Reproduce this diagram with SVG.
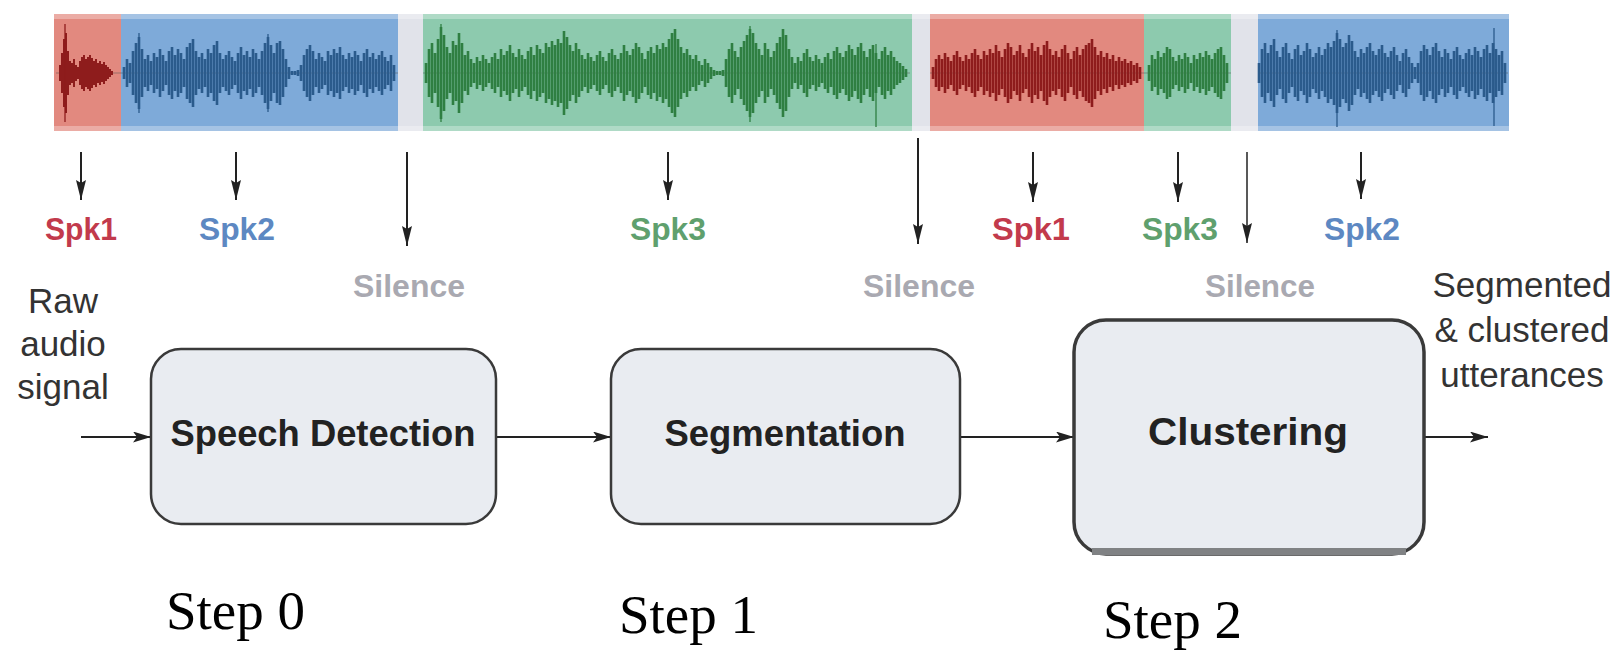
<svg xmlns="http://www.w3.org/2000/svg" width="1624" height="654" viewBox="0 0 1624 654">
  <style>
    .wave { fill: none; stroke-width: 2.6; stroke-linecap: butt; }
    .spike { fill: none; stroke-width: 1.3; }
    .w-red { stroke: #8e1c1c; }
    .w-blue { stroke: #2b5b8c; }
    .w-green { stroke: #2f7f42; }
    .conn { fill: none; stroke: #222; stroke-width: 2; }
    .box { fill: #e9ecf1; stroke: #3a3a3a; stroke-width: 2.5; }
    .boxlabel { font-family: "Liberation Sans", Arial, sans-serif; font-weight: bold; font-size: 36px; fill: #222; text-anchor: middle; }
    .spk { font-family: "Liberation Sans", Arial, sans-serif; font-weight: bold; font-size: 31px; text-anchor: middle; }
    .sil { font-family: "Liberation Sans", Arial, sans-serif; font-weight: bold; font-size: 32px; fill: #a9a9b1; text-anchor: middle; }
    .side { font-family: "Liberation Sans", Arial, sans-serif; font-size: 35px; fill: #333; text-anchor: middle; }
    .step { font-family: "Liberation Serif", "Times New Roman", serif; font-size: 55px; fill: #000; }
  </style>
  <defs>
    <marker id="ahH" viewBox="0 0 18 11" refX="18" refY="5.5" markerWidth="18" markerHeight="11" orient="auto" markerUnits="userSpaceOnUse">
      <path d="M0 0L18 5.5L0 11L4 5.5z" fill="#222"/>
    </marker>
    <marker id="ahV" viewBox="0 0 20 10" refX="20" refY="5" markerWidth="20" markerHeight="10" orient="auto" markerUnits="userSpaceOnUse">
      <path d="M0 0L20 5L0 10L3 5z" fill="#222"/>
    </marker>
  </defs>

  <rect width="1624" height="654" fill="#ffffff"/>

  <!-- audio strip: coloured speaker segments -->
  <g id="audio-strip">
    <rect x="54" y="14" width="67" height="117" fill="#e2897f"/>
    <rect x="121" y="14" width="277" height="117" fill="#7eaad9"/>
    <rect x="398" y="14" width="25" height="117" fill="#e1e3ea"/>
    <rect x="423" y="14" width="489" height="117" fill="#8dcaae"/>
    <rect x="912" y="14" width="18" height="117" fill="#e1e3ea"/>
    <rect x="930" y="14" width="214" height="117" fill="#e2897f"/>
    <rect x="1144" y="14" width="87" height="117" fill="#8dcaae"/>
    <rect x="1231" y="14" width="27" height="117" fill="#e1e3ea"/>
    <rect x="1258" y="14" width="251" height="117" fill="#7eaad9"/>
    <rect x="54" y="14" width="1455" height="5" fill="#ffffff" opacity="0.3"/>
    <rect x="54" y="126" width="1455" height="5" fill="#ffffff" opacity="0.3"/>

    <!-- zero lines -->
    <path d="M56 73H121M121 73H398M423 73H910M930 73H1144M1144 73H1231M1258 73H1508" stroke="#555" stroke-width="1" opacity="0.5"/>

    <!-- Spk1 -->
    <path class="wave w-red" style="stroke-width:2" d="M60 65V81M62 53V93M64 39V107M66 33V113M68 51V95M70 61V85M72 63V83M74 59V87M76 65V81M78 67V79M80 61V85M82 57V89M84 55V91M86 59V87M88 57V89M90 55V91M92 58V88M94 61V85M96 59V87M98 63V83M100 61V85M102 64V82M104 62V84M106 65V81M108 67V79M110 69V77M112 71V75"/>
    <path class="spike w-red" d="M65 24V122"/>

    <!-- Spk2 -->
    <path class="wave w-blue" d="M124 67V79M127 59V87M130 63V83M133 51V95M136 43V103M139 37V109M142 49V97M145 59V87M148 55V91M151 61V85M154 53V93M157 57V89M160 49V97M163 55V91M166 61V85M169 51V95M172 47V99M175 55V91M178 49V97M181 53V93M184 59V87M187 47V99M190 43V103M193 39V107M196 51V95M199 57V89M202 53V93M205 59V87M208 49V97M211 53V93M214 45V101M217 41V105M220 53V93M223 59V87M226 55V91M229 51V95M232 57V89M235 61V85M238 53V93M241 47V99M244 55V91M247 51V95M250 57V89M253 49V97M256 53V93M259 59V87M262 51V95M265 43V103M268 37V109M271 45V101M274 53V93M277 43V103M280 41V105M283 49V97M286 59V87M289 67V79M292 71V75M295 71V75M298 70V76M301 65V81M304 55V91M307 49V97M310 45V101M313 51V95M316 59V87M319 53V93M322 57V89M325 61V85M328 51V95M331 55V91M334 49V97M337 53V93M340 47V99M343 55V91M346 59V87M349 53V93M352 57V89M355 51V95M358 55V91M361 61V85M364 53V93M367 49V97M370 57V89M373 53V93M376 59V87M379 55V91M382 51V95M385 57V89M388 61V85M391 55V91M394 65V81"/>
    <path class="spike w-blue" d="M139 33V113M268 34V112"/>

    <!-- Spk3 -->
    <path class="wave w-green" d="M426 63V83M429 49V97M432 43V103M435 53V93M438 39V107M441 27V119M444 35V111M447 47V99M450 53V93M453 41V105M456 45V101M459 33V113M462 43V103M465 55V91M468 51V95M471 59V87M474 63V83M477 57V89M480 61V85M483 55V91M486 59V87M489 63V83M492 57V89M495 53V93M498 59V87M501 49V97M504 55V91M507 51V95M510 45V101M513 53V93M516 57V89M519 49V97M522 55V91M525 59V87M528 51V95M531 47V99M534 55V91M537 45V101M540 49V97M543 53V93M546 43V103M549 47V99M552 41V105M555 45V101M558 39V107M561 43V103M564 31V115M567 37V109M570 45V101M573 51V95M576 43V103M579 49V97M582 55V91M585 59V87M588 53V93M591 57V89M594 61V85M597 55V91M600 51V95M603 57V89M606 61V85M609 53V93M612 49V97M615 55V91M618 59V87M621 53V93M624 45V101M627 51V95M630 55V91M633 49V97M636 43V103M639 47V99M642 53V93M645 59V87M648 51V95M651 47V99M654 53V93M657 45V101M660 49V97M663 43V103M666 47V99M669 39V107M672 33V113M675 29V117M678 39V107M681 47V99M684 53V93M687 49V97M690 55V91M693 59V87M696 55V91M699 61V85M702 65V81M705 59V87M708 63V83M711 67V79M714 70V76M717 71V75M720 71V75M723 70V76M726 59V87M729 49V97M732 43V103M735 51V95M738 57V89M741 47V99M744 41V105M747 35V111M750 29V117M753 33V113M756 43V103M759 49V97M762 55V91M765 43V103M768 49V97M771 57V89M774 51V95M777 43V103M780 37V109M783 29V117M786 35V111M789 49V97M792 57V89M795 63V83M798 57V89M801 61V85M804 53V93M807 49V97M810 57V89M813 61V85M816 55V91M819 59V87M822 63V83M825 57V89M828 53V93M831 59V87M834 51V95M837 47V99M840 53V93M843 57V89M846 51V95M849 45V101M852 49V97M855 55V91M858 47V99M861 43V103M864 51V95M867 57V89M870 49V97M873 45V101M876 53V93M879 59V87M882 51V95M885 47V99M888 55V91M891 51V95M894 57V89M897 61V85M900 63V83M903 66V80M906 69V77"/>
    <path class="spike w-green" d="M441 24V122M750 26V122M876 44V127"/>

    <!-- Spk1 again -->
    <path class="wave w-red" d="M933 67V79M936 59V87M939 55V91M942 59V87M945 53V93M948 57V89M951 61V85M954 55V91M957 51V95M960 57V89M963 61V85M966 55V91M969 59V87M972 53V93M975 49V97M978 55V91M981 59V87M984 51V95M987 55V91M990 49V97M993 53V93M996 45V101M999 51V95M1002 57V89M1005 49V97M1008 43V103M1011 47V99M1014 55V91M1017 51V95M1020 45V101M1023 53V93M1026 57V89M1029 49V97M1032 43V103M1035 51V95M1038 47V99M1041 55V91M1044 45V101M1047 41V105M1050 49V97M1053 55V91M1056 51V95M1059 57V89M1062 49V97M1065 45V101M1068 53V93M1071 59V87M1074 51V95M1077 47V99M1080 55V91M1083 49V97M1086 45V101M1089 43V103M1092 39V107M1095 47V99M1098 55V91M1101 51V95M1104 57V89M1107 53V93M1110 59V87M1113 55V91M1116 61V85M1119 57V89M1122 61V85M1125 59V87M1128 63V83M1131 61V85M1134 65V81M1137 63V83M1140 67V79"/>

    <!-- Spk3 again -->
    <path class="wave w-green" d="M1149 65V81M1152 55V91M1155 59V87M1158 51V95M1161 57V89M1164 53V93M1167 47V99M1170 49V97M1173 57V89M1176 61V85M1179 55V91M1182 59V87M1185 53V93M1188 57V89M1191 63V83M1194 55V91M1197 59V87M1200 53V93M1203 57V89M1206 51V95M1209 55V91M1212 59V87M1215 53V93M1218 49V97M1221 47V99M1224 55V91M1227 63V83"/>

    <!-- Spk2 again -->
    <path class="wave w-blue" d="M1259 63V83M1262 49V97M1265 43V103M1268 53V93M1271 45V101M1274 39V107M1277 51V95M1280 57V89M1283 47V99M1286 43V103M1289 53V93M1292 59V87M1295 49V97M1298 45V101M1301 55V91M1304 51V95M1307 43V103M1310 49V97M1313 57V89M1316 53V93M1319 47V99M1322 55V91M1325 49V97M1328 43V103M1331 47V99M1334 41V105M1337 33V113M1340 39V107M1343 47V99M1346 43V103M1349 35V111M1352 41V105M1355 51V95M1358 57V89M1361 49V97M1364 53V93M1367 47V99M1370 43V103M1373 51V95M1376 55V91M1379 49V97M1382 45V101M1385 53V93M1388 57V89M1391 51V95M1394 47V99M1397 55V91M1400 61V85M1403 53V93M1406 49V97M1409 57V89M1412 63V83M1415 67V79M1418 63V83M1421 51V95M1424 45V101M1427 49V97M1430 55V91M1433 47V99M1436 43V103M1439 51V95M1442 57V89M1445 49V97M1448 53V93M1451 59V87M1454 51V95M1457 47V99M1460 55V91M1463 59V87M1466 53V93M1469 49V97M1472 55V91M1475 47V99M1478 51V95M1481 57V89M1484 49V97M1487 45V101M1490 53V93M1493 43V103M1496 49V97M1499 55V91M1502 51V95M1505 63V83"/>
    <path class="spike w-blue" d="M1337 30V127M1494 28V126"/>
  </g>

  <!-- connectors -->
  <g id="connectors">
    <path class="conn" d="M81 152V200" marker-end="url(#ahV)"/>
    <path class="conn" d="M236 152V200" marker-end="url(#ahV)"/>
    <path class="conn" d="M407 152V246" marker-end="url(#ahV)"/>
    <path class="conn" d="M668 152V200" marker-end="url(#ahV)"/>
    <path class="conn" d="M918 138V244" marker-end="url(#ahV)"/>
    <path class="conn" d="M1033 152V202" marker-end="url(#ahV)"/>
    <path class="conn" d="M1178 152V202" marker-end="url(#ahV)"/>
    <path class="conn" style="stroke-width:1.5" d="M1247 152V243" marker-end="url(#ahV)"/>
    <path class="conn" d="M1361 152V199" marker-end="url(#ahV)"/>

    <path class="conn" d="M81 437H151" marker-end="url(#ahH)"/>
    <path class="conn" d="M496 437H611" marker-end="url(#ahH)"/>
    <path class="conn" d="M960 437H1074" marker-end="url(#ahH)"/>
    <path class="conn" d="M1424 437H1488" marker-end="url(#ahH)"/>
  </g>

  <!-- segment labels -->
  <g id="segment-labels">
    <text class="spk" x="81" y="240" fill="#c23a4c" textLength="72" lengthAdjust="spacingAndGlyphs">Spk1</text>
    <text class="spk" x="237" y="240" fill="#5d88c2" textLength="76" lengthAdjust="spacingAndGlyphs">Spk2</text>
    <text class="spk" x="668" y="240" fill="#5fa06e" textLength="76" lengthAdjust="spacingAndGlyphs">Spk3</text>
    <text class="spk" x="1031" y="240" fill="#c23a4c" textLength="78" lengthAdjust="spacingAndGlyphs">Spk1</text>
    <text class="spk" x="1180" y="240" fill="#5fa06e" textLength="76" lengthAdjust="spacingAndGlyphs">Spk3</text>
    <text class="spk" x="1362" y="240" fill="#5d88c2" textLength="76" lengthAdjust="spacingAndGlyphs">Spk2</text>
    <text class="sil" x="409" y="297" textLength="112" lengthAdjust="spacingAndGlyphs">Silence</text>
    <text class="sil" x="919" y="297" textLength="112" lengthAdjust="spacingAndGlyphs">Silence</text>
    <text class="sil" x="1260" y="297" textLength="110" lengthAdjust="spacingAndGlyphs">Silence</text>
  </g>

  <g id="input-label">
    <text class="side" x="63" y="313">Raw</text>
    <text class="side" x="63" y="356">audio</text>
    <text class="side" x="63" y="399">signal</text>
  </g>

  <g id="output-label">
    <text class="side" x="1522" y="297">Segmented</text>
    <text class="side" x="1522" y="342">&amp; clustered</text>
    <text class="side" x="1522" y="387">utterances</text>
  </g>

  <g id="speech-detection">
    <rect class="box" x="151" y="349" width="345" height="175" rx="30"/>
    <text class="boxlabel" x="323" y="446" textLength="305" lengthAdjust="spacingAndGlyphs">Speech Detection</text>
  </g>

  <g id="segmentation">
    <rect class="box" x="611" y="349" width="349" height="175" rx="30"/>
    <text class="boxlabel" x="785" y="446" textLength="241" lengthAdjust="spacingAndGlyphs">Segmentation</text>
  </g>

  <g id="clustering">
    <rect class="box" style="stroke-width:3.5" x="1074" y="320" width="350" height="234" rx="32"/>
    <rect x="1092" y="548" width="314" height="7" fill="#808284"/>
    <text class="boxlabel" style="font-size:38px" x="1248" y="445" textLength="200" lengthAdjust="spacingAndGlyphs">Clustering</text>
  </g>

  <g id="steps">
    <text class="step" x="166" y="629">Step 0</text>
    <text class="step" x="619" y="633">Step 1</text>
    <text class="step" x="1103" y="638">Step 2</text>
  </g>
</svg>
